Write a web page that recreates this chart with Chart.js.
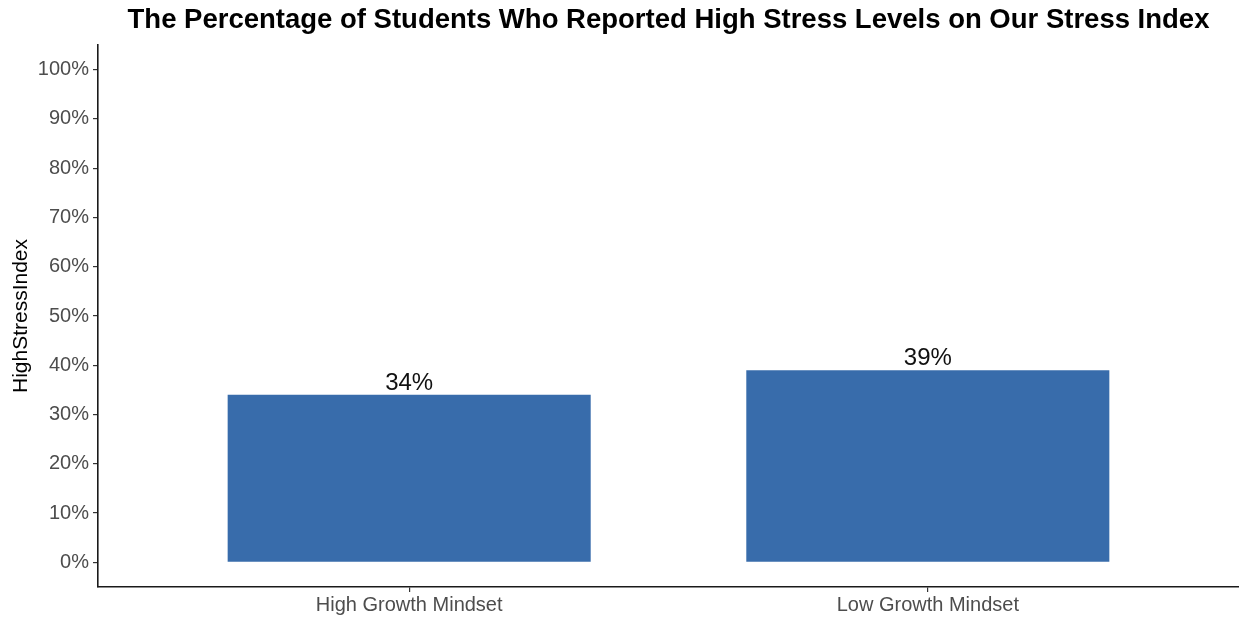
<!DOCTYPE html>
<html>
<head>
<meta charset="utf-8">
<script src="https://cdn.jsdelivr.net/npm/chart.js@4.4.1/dist/chart.umd.min.js"></script>
<style>
  html, body { margin: 0; padding: 0; background: #ffffff; }
  #wrap { width: 1239px; height: 617px; position: relative; }
</style>
</head>
<body>
<div id="wrap"><canvas id="chart"></canvas></div>
<script>
// Groups compared and the share of each reporting high stress (%)
const categories = ['High Growth Mindset', 'Low Growth Mindset'];
const highStress = [34, 39];
// Y-axis tick values (%)
const yTicks = [0, 10, 20, 30, 40, 50, 60, 70, 80, 90, 100];

const FONT = "'Liberation Sans', Arial, sans-serif";
const BAR_COLOR = '#386cab';

// Bars sit at positions 1..n on a numeric x scale
const points = categories.map((c, i) => ({ x: i + 1, y: highStress[i] }));

const valueLabels = {
  id: 'valueLabels',
  afterDatasetsDraw(chart) {
    const ctx = chart.ctx;
    const meta = chart.getDatasetMeta(0);
    ctx.save();
    ctx.fillStyle = '#111111';
    ctx.font = '24px ' + FONT;
    ctx.textAlign = 'center';
    ctx.textBaseline = 'alphabetic';
    meta.data.forEach((bar, i) => {
      ctx.fillText(highStress[i] + '%', bar.x, bar.y - 5);
    });
    ctx.restore();
  }
};

new Chart(document.getElementById('chart'), {
  type: 'bar',
  data: {
    datasets: [{
      data: points,
      backgroundColor: BAR_COLOR,
      borderWidth: 0,
      categoryPercentage: 1,
      barPercentage: 0.7
    }]
  },
  options: {
    responsive: true,
    maintainAspectRatio: false,
    animation: false,
    layout: { padding: { left: 0, right: 0, top: 0, bottom: 0 } },
    plugins: {
      legend: { display: false },
      tooltip: { enabled: false },
      title: {
        display: true,
        fullSize: false,
        text: 'The Percentage of Students Who Reported High Stress Levels on Our Stress Index',
        color: '#000000',
        font: { family: FONT, size: 27.5, weight: 'bold', lineHeight: 1.2 },
        padding: { top: 4, bottom: 8 }
      }
    },
    scales: {
      x: {
        type: 'linear',
        offset: false,
        min: 0.4,
        max: 2.6,
        afterBuildTicks(scale) {
          scale.ticks = categories.map((c, i) => ({ value: i + 1 }));
        },
        afterFit(scale) { scale.height = 30; },
        ticks: {
          color: '#4d4d4d',
          font: { family: FONT, size: 20 },
          padding: 1,
          maxRotation: 0,
          autoSkip: false,
          callback(value) { return categories[value - 1]; }
        },
        grid: {
          offset: false,
          drawOnChartArea: false,
          drawTicks: true,
          tickLength: 5,
          color: '#333333',
          lineWidth: 1.2
        },
        border: { display: true, color: '#1a1a1a', width: 1.6 }
      },
      y: {
        min: -5,
        max: 105,
        afterBuildTicks(scale) {
          scale.ticks = yTicks.map(v => ({ value: v }));
        },
        afterFit(scale) { scale.width = 98; },
        ticks: {
          color: '#4d4d4d',
          font: { family: FONT, size: 20 },
          padding: 4,
          callback(value) { return value + '%'; }
        },
        grid: {
          drawOnChartArea: false,
          drawTicks: true,
          tickLength: 5,
          color: '#333333',
          lineWidth: 1.2
        },
        border: { display: true, color: '#1a1a1a', width: 1.6 },
        title: {
          display: true,
          text: 'HighStressIndex',
          color: '#000000',
          font: { family: FONT, size: 21, lineHeight: 1.2 },
          padding: { top: 8.4, bottom: 0 }
        }
      }
    }
  },
  plugins: [valueLabels]
});
</script>
</body>
</html>
